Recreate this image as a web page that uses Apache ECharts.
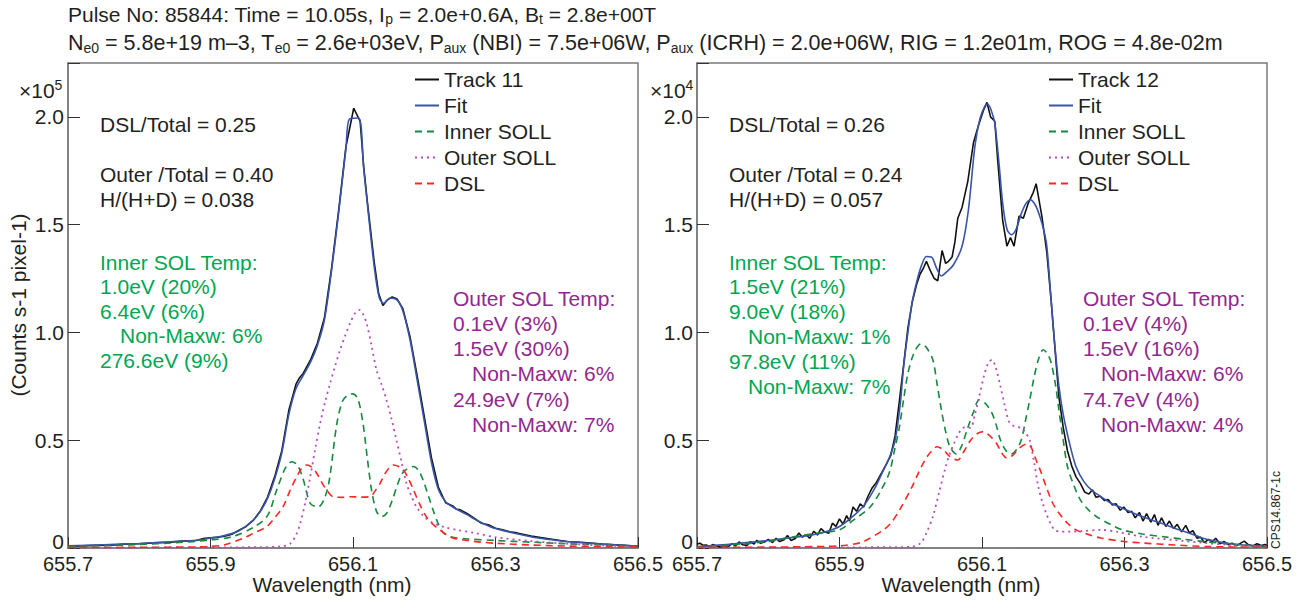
<!DOCTYPE html>
<html><head><meta charset="utf-8">
<script src="https://cdn.jsdelivr.net/npm/echarts@6/dist/echarts.min.js"></script>
<style>html,body{margin:0;padding:0;background:#fff}#c{width:1316px;height:608px}</style>
</head><body><div id="c"></div>
<script>
// ---------------- data (wavelength nm, counts in axis units) ----------------
const xTicks = [655.7, 655.9, 656.1, 656.3, 656.5];
const yTicks = [0, 0.5, 1.0, 1.5, 2.0];
const legendLeft = ['Track 11', 'Fit', 'Inner SOLL', 'Outer SOLL', 'DSL'];
const legendRight = ['Track 12', 'Fit', 'Inner SOLL', 'Outer SOLL', 'DSL'];

const leftTrack = [[655.70,0.008],[655.72,0.010],[655.74,0.012],[655.76,0.013],[655.78,0.018],[655.80,0.020],[655.82,0.024],[655.84,0.026],[655.86,0.032],[655.88,0.035],[655.89,0.044],[655.90,0.047],[655.91,0.050],[655.92,0.055],[655.93,0.064],[655.94,0.082],[655.95,0.100],[655.96,0.128],[655.97,0.172],[655.98,0.235],[655.99,0.330],[656.00,0.450],[656.01,0.640],[656.02,0.760],[656.025,0.790],[656.03,0.810],[656.04,0.870],[656.05,0.950],[656.06,1.070],[656.07,1.300],[656.08,1.570],[656.09,1.860],[656.101,2.040],[656.11,1.980],[656.115,1.770],[656.12,1.610],[656.13,1.320],[656.136,1.180],[656.142,1.125],[656.148,1.150],[656.155,1.165],[656.162,1.155],[656.17,1.110],[656.18,0.980],[656.19,0.800],[656.20,0.610],[656.21,0.420],[656.22,0.280],[656.23,0.210],[656.24,0.195],[656.245,0.180],[656.25,0.178],[656.26,0.160],[656.27,0.138],[656.28,0.115],[656.29,0.108],[656.30,0.092],[656.31,0.085],[656.32,0.075],[656.33,0.070],[656.35,0.055],[656.37,0.045],[656.40,0.030],[656.42,0.027],[656.45,0.018],[656.48,0.012],[656.50,0.008]];
const leftFit = [[655.70,0.010],[655.75,0.015],[655.80,0.021],[655.85,0.030],[655.88,0.036],[655.90,0.046],[655.92,0.058],[655.94,0.080],[655.96,0.130],[655.97,0.170],[655.98,0.230],[655.99,0.320],[656.00,0.440],[656.01,0.620],[656.02,0.740],[656.03,0.800],[656.04,0.860],[656.05,0.940],[656.06,1.060],[656.07,1.290],[656.08,1.560],[656.09,1.850],[656.095,1.990],[656.108,1.995],[656.115,1.760],[656.12,1.600],[656.13,1.300],[656.137,1.160],[656.143,1.135],[656.152,1.160],[656.162,1.150],[656.17,1.100],[656.18,0.966],[656.19,0.780],[656.20,0.590],[656.21,0.400],[656.22,0.270],[656.23,0.215],[656.24,0.190],[656.25,0.172],[656.26,0.155],[656.27,0.135],[656.28,0.118],[656.30,0.090],[656.33,0.066],[656.36,0.046],[656.40,0.030],[656.45,0.018],[656.50,0.009]];
const leftInner = [[655.70,0.008],[655.75,0.011],[655.80,0.016],[655.85,0.024],[655.90,0.037],[655.93,0.052],[655.96,0.095],[655.98,0.150],[655.993,0.270],[656.005,0.370],[656.014,0.400],[656.022,0.385],[656.03,0.320],[656.04,0.207],[656.051,0.190],[656.06,0.230],[656.067,0.320],[656.077,0.570],[656.085,0.680],[656.093,0.710],[656.100,0.715],[656.107,0.690],[656.114,0.579],[656.12,0.420],[656.126,0.270],[656.133,0.170],[656.14,0.145],[656.147,0.160],[656.155,0.220],[656.161,0.280],[656.168,0.340],[656.175,0.365],[656.185,0.378],[656.192,0.360],[656.199,0.310],[656.206,0.240],[656.213,0.170],[656.22,0.110],[656.227,0.070],[656.24,0.050],[656.26,0.042],[656.30,0.035],[656.35,0.027],[656.40,0.020],[656.45,0.014],[656.50,0.010]];
const leftOuter = [[655.70,0.002],[655.80,0.002],[655.90,0.003],[655.97,0.004],[656.00,0.008],[656.012,0.020],[656.02,0.060],[656.026,0.115],[656.033,0.210],[656.040,0.331],[656.047,0.460],[656.054,0.580],[656.061,0.680],[656.068,0.765],[656.075,0.845],[656.082,0.920],[656.089,0.985],[656.096,1.043],[656.103,1.090],[656.109,1.105],[656.114,1.085],[656.119,1.043],[656.126,0.940],[656.133,0.826],[656.140,0.760],[656.147,0.687],[656.154,0.600],[656.161,0.500],[656.168,0.400],[656.175,0.300],[656.182,0.240],[656.189,0.192],[656.20,0.145],[656.213,0.115],[656.23,0.095],[656.246,0.084],[656.27,0.070],[656.30,0.050],[656.35,0.032],[656.40,0.020],[656.45,0.012],[656.50,0.006]];
const leftDSL = [[655.70,0.002],[655.80,0.003],[655.88,0.005],[655.90,0.007],[655.92,0.015],[655.946,0.045],[655.96,0.068],[655.979,0.099],[655.99,0.140],[656.002,0.192],[656.012,0.270],[656.021,0.331],[656.028,0.370],[656.035,0.385],[656.042,0.375],[656.049,0.347],[656.056,0.305],[656.063,0.269],[656.072,0.238],[656.085,0.235],[656.096,0.238],[656.11,0.236],[656.124,0.238],[656.131,0.265],[656.138,0.300],[656.145,0.345],[656.151,0.372],[656.157,0.385],[656.164,0.378],[656.171,0.362],[656.178,0.320],[656.185,0.269],[656.194,0.200],[656.203,0.145],[656.212,0.110],[656.222,0.084],[656.232,0.060],[656.241,0.045],[656.26,0.035],[656.28,0.027],[656.30,0.022],[656.35,0.014],[656.40,0.009],[656.45,0.006],[656.50,0.004]];

const rightTrack = [[655.700,0.018],[655.704,0.022],[655.709,0.012],[655.713,0.014],[655.718,0.006],[655.722,0.016],[655.727,0.010],[655.733,0.004],[655.738,0.012],[655.744,0.006],[655.749,0.020],[655.754,0.010],[655.759,0.028],[655.764,0.015],[655.770,0.012],[655.775,0.030],[655.780,0.018],[655.784,0.036],[655.789,0.022],[655.795,0.028],[655.800,0.040],[655.806,0.025],[655.811,0.045],[655.816,0.030],[655.822,0.038],[655.827,0.058],[655.832,0.035],[655.838,0.044],[655.843,0.070],[655.848,0.050],[655.853,0.062],[655.858,0.045],[655.864,0.078],[655.869,0.060],[655.874,0.090],[655.879,0.075],[655.885,0.068],[655.890,0.115],[655.895,0.100],[655.900,0.135],[655.905,0.110],[655.910,0.150],[655.914,0.125],[655.919,0.190],[655.924,0.170],[655.929,0.205],[655.934,0.190],[655.940,0.240],[655.946,0.280],[655.951,0.300],[655.956,0.330],[655.961,0.360],[655.966,0.390],[655.972,0.430],[655.978,0.520],[655.984,0.680],[655.990,0.850],[655.996,1.020],[656.002,1.140],[656.008,1.220],[656.013,1.270],[656.018,1.300],[656.022,1.330],[656.027,1.290],[656.033,1.250],[656.038,1.240],[656.044,1.380],[656.049,1.320],[656.053,1.330],[656.058,1.350],[656.062,1.420],[656.066,1.530],[656.072,1.580],[656.080,1.700],[656.088,1.880],[656.095,1.960],[656.102,2.030],[656.107,2.067],[656.112,2.000],[656.118,1.980],[656.122,1.800],[656.129,1.520],[656.135,1.400],[656.140,1.440],[656.145,1.400],[656.152,1.540],[656.158,1.530],[656.165,1.600],[656.172,1.650],[656.176,1.690],[656.184,1.540],[656.191,1.370],[656.197,1.150],[656.203,0.900],[656.208,0.700],[656.214,0.560],[656.220,0.450],[656.226,0.380],[656.232,0.330],[656.238,0.300],[656.244,0.260],[656.250,0.250],[656.255,0.270],[656.260,0.235],[656.266,0.240],[656.272,0.220],[656.277,0.225],[656.283,0.200],[656.288,0.205],[656.294,0.175],[656.299,0.190],[656.305,0.165],[656.310,0.170],[656.315,0.140],[656.321,0.165],[656.326,0.125],[656.331,0.160],[656.337,0.120],[656.342,0.155],[656.347,0.105],[656.352,0.140],[656.358,0.100],[656.363,0.125],[656.369,0.090],[656.374,0.110],[656.380,0.075],[656.386,0.105],[656.391,0.070],[656.396,0.080],[656.402,0.045],[656.407,0.050],[656.412,0.025],[656.418,0.040],[656.423,0.028],[656.428,0.045],[656.434,0.020],[656.440,0.030],[656.446,0.015],[656.451,0.022],[656.457,0.010],[656.462,0.020],[656.468,0.032],[656.474,0.015],[656.480,0.010],[656.486,0.020],[656.492,0.012],[656.497,0.016],[656.500,0.012]];
const rightFit = [[655.70,0.006],[655.75,0.018],[655.80,0.035],[655.85,0.055],[655.875,0.070],[655.90,0.100],[655.92,0.150],[655.935,0.200],[655.95,0.280],[655.96,0.350],[655.97,0.420],[655.978,0.500],[655.985,0.660],[655.99,0.840],[655.996,1.000],[656.002,1.140],[656.008,1.230],[656.015,1.310],[656.022,1.352],[656.029,1.350],[656.036,1.300],[656.043,1.262],[656.05,1.280],[656.06,1.314],[656.072,1.400],[656.081,1.570],[656.09,1.863],[656.097,1.990],[656.104,2.050],[656.108,2.060],[656.113,2.030],[656.118,1.970],[656.124,1.780],[656.129,1.600],[656.135,1.480],[656.141,1.453],[656.148,1.480],[656.155,1.550],[656.162,1.600],[656.168,1.615],[656.175,1.590],[656.181,1.540],[656.187,1.470],[656.191,1.400],[656.197,1.150],[656.202,0.950],[656.208,0.750],[656.214,0.620],[656.224,0.470],[656.232,0.377],[656.243,0.308],[656.255,0.265],[656.267,0.238],[656.28,0.210],[656.297,0.185],[656.31,0.165],[656.326,0.145],[656.34,0.128],[656.355,0.111],[656.37,0.092],[656.39,0.070],[656.41,0.045],[656.43,0.030],[656.45,0.020],[656.475,0.012],[656.50,0.006]];
const rightInner = [[655.70,0.006],[655.75,0.015],[655.80,0.030],[655.825,0.046],[655.85,0.060],[655.875,0.072],[655.90,0.084],[655.92,0.130],[655.943,0.190],[655.957,0.260],[655.97,0.350],[655.977,0.450],[655.984,0.560],[655.990,0.690],[655.996,0.810],[656.004,0.900],[656.014,0.947],[656.022,0.930],[656.031,0.873],[656.037,0.760],[656.043,0.640],[656.049,0.540],[656.055,0.470],[656.064,0.436],[656.071,0.470],[656.079,0.548],[656.088,0.630],[656.096,0.687],[656.105,0.670],[656.114,0.626],[656.12,0.570],[656.126,0.500],[656.134,0.450],[656.141,0.436],[656.148,0.455],[656.155,0.500],[656.161,0.590],[656.167,0.687],[656.173,0.790],[656.179,0.873],[656.186,0.920],[656.192,0.900],[656.197,0.860],[656.203,0.760],[656.208,0.640],[656.214,0.500],[656.22,0.377],[656.229,0.290],[656.238,0.223],[656.25,0.175],[656.261,0.145],[656.28,0.110],[656.297,0.084],[656.325,0.065],[656.355,0.052],[656.385,0.040],[656.414,0.029],[656.45,0.018],[656.50,0.006]];
const rightOuter = [[655.70,0.002],[655.80,0.002],[655.90,0.003],[655.98,0.004],[656.002,0.006],[656.014,0.023],[656.022,0.070],[656.031,0.145],[656.040,0.260],[656.049,0.377],[656.055,0.440],[656.061,0.487],[656.067,0.530],[656.073,0.557],[656.078,0.560],[656.084,0.557],[656.090,0.620],[656.096,0.702],[656.103,0.800],[656.109,0.860],[656.114,0.873],[656.119,0.840],[656.126,0.749],[656.132,0.660],[656.138,0.586],[656.145,0.565],[656.155,0.557],[656.161,0.535],[656.167,0.500],[656.173,0.400],[656.179,0.285],[656.185,0.210],[656.19,0.162],[656.196,0.115],[656.202,0.084],[656.21,0.076],[656.22,0.076],[656.24,0.078],[656.267,0.084],[656.29,0.075],[656.326,0.052],[656.37,0.037],[656.414,0.023],[656.45,0.014],[656.50,0.006]];
const rightDSL = [[655.70,0.003],[655.80,0.004],[655.85,0.006],[655.90,0.010],[655.93,0.025],[655.943,0.046],[655.96,0.080],[655.972,0.115],[655.985,0.180],[656.002,0.285],[656.011,0.350],[656.020,0.408],[656.028,0.445],[656.037,0.470],[656.046,0.455],[656.055,0.424],[656.066,0.408],[656.075,0.450],[656.084,0.500],[656.093,0.530],[656.102,0.540],[656.111,0.520],[656.12,0.487],[656.128,0.440],[656.135,0.417],[656.143,0.430],[656.15,0.455],[656.157,0.475],[656.164,0.483],[656.170,0.460],[656.176,0.408],[656.183,0.350],[656.19,0.285],[656.199,0.210],[656.208,0.162],[656.22,0.115],[656.232,0.084],[656.25,0.062],[656.267,0.046],[656.30,0.030],[656.326,0.023],[656.37,0.014],[656.414,0.007],[656.50,0.003]];

// text content
const titleLine1 = 'Pulse No: 85844: Time = 10.05s, I{s|p} = 2.0e+0.6A, B{s|t} = 2.8e+00T';
const titleLine2 = 'N{s|e0} = 5.8e+19 m–3, T{s|e0} = 2.6e+03eV, P{s|aux} (NBI) = 7.5e+06W, P{s|aux} (ICRH) = 2.0e+06W, RIG = 1.2e01m, ROG = 4.8e-02m';
const leftScale = '×10{u|5}', rightScale = '×10{u|4}';
const yName = '(Counts s-1 pixel-1)', xName = 'Wavelength (nm)';
const leftNotes = [['DSL/Total = 0.25',0],['',0],['Outer /Total = 0.40',0],['H/(H+D) = 0.038',0]];
const rightNotes = [['DSL/Total = 0.26',0],['',0],['Outer /Total = 0.24',0],['H/(H+D) = 0.057',0]];
const leftInnerT = [['Inner SOL Temp:',0],['1.0eV (20%)',0],['6.4eV (6%)',0],['Non-Maxw: 6%',1],['276.6eV (9%)',0]];
const leftOuterT = [['Outer SOL Temp:',0],['0.1eV (3%)',0],['1.5eV (30%)',0],['Non-Maxw: 6%',1],['24.9eV (7%)',0],['Non-Maxw: 7%',1]];
const rightInnerT = [['Inner SOL Temp:',0],['1.5eV (21%)',0],['9.0eV (18%)',0],['Non-Maxw: 1%',1],['97.8eV (11%)',0],['Non-Maxw: 7%',1]];
const rightOuterT = [['Outer SOL Temp:',0],['0.1eV (4%)',0],['1.5eV (16%)',0],['Non-Maxw: 6%',1],['74.7eV (4%)',0],['Non-Maxw: 4%',1]];
const figId = 'CPS14.867-1c';

// ---------------- chart ----------------
const BASE = xTicks[0];
const FONT = '"Liberation Sans", Arial, Helvetica, sans-serif';
const C = {k:'#231f20', track:'#111111', fit:'#3a55a8', inner:'#138a3e', outer:'#b64cbe', dsl:'#ff2626', green:'#00a651', purple:'#93278f', frame:'#7a7a7a'};
const FS = 21;

function mk(name, data, i, color, type, width, smooth) {
  return {type:'line', name, xAxisIndex:i, yAxisIndex:i, data:data.map(p=>[+(p[0]-BASE).toFixed(4), p[1]]),
    symbol:'none', showSymbol:false, smooth: smooth, animation:false,
    lineStyle:{color, width, type}, itemStyle:{color}};
}
const dash=[7,5], dot=[2,4];
const series = [
  mk('Track 11', leftTrack, 0, C.track, 'solid', 1.6, false),
  mk('Fit', leftFit, 0, C.fit, 'solid', 1.6, 0.3),
  mk('Inner SOLL', leftInner, 0, C.inner, dash, 1.6, 0.3),
  mk('Outer SOLL', leftOuter, 0, C.outer, dot, 1.8, 0.3),
  mk('DSL', leftDSL, 0, C.dsl, dash, 1.6, 0.3),
  mk('Track 12', rightTrack, 1, C.track, 'solid', 1.6, false),
  mk('Fit', rightFit, 1, C.fit, 'solid', 1.6, 0.3),
  mk('Inner SOLL', rightInner, 1, C.inner, dash, 1.6, 0.3),
  mk('Outer SOLL', rightOuter, 1, C.outer, dot, 1.8, 0.3),
  mk('DSL', rightDSL, 1, C.dsl, dash, 1.6, 0.3)
];

const grids = [{left:68, top:63, width:570, height:485}, {left:697, top:63, width:570, height:485}];
function xAx(i){ return {type:'value', gridIndex:i, min:0, max:+(xTicks[xTicks.length-1]-BASE).toFixed(4), interval:0.2,
  axisLine:{show:true, onZero:false, lineStyle:{color:C.frame, width:1.5}},
  axisTick:{show:true, inside:true, length:11, lineStyle:{color:'#333', width:1}},
  axisLabel:{margin:6, color:C.k, fontSize:20, fontFamily:FONT, formatter:v=>(BASE+v).toFixed(1)},
  splitLine:{show:false}}; }
function yAx(i){ return {type:'value', gridIndex:i, min:0, max:2.25, interval:0.5,
  axisLine:{show:true, lineStyle:{color:C.frame, width:1.5}},
  axisTick:{show:true, inside:true, length:12, lineStyle:{color:'#333', width:1}},
  axisLabel:{margin:4, color:C.k, fontSize:FS, fontFamily:FONT,
    rich:{z:{fontSize:FS, fontFamily:FONT, color:C.k, padding:[0,0,13,0]}},
    formatter:v=>{ if (Math.abs(v*2-Math.round(v*2))>1e-6) return ''; return v===0?'{z|0}':v.toFixed(1);} },
  splitLine:{show:false}}; }

const graphic = [];
function txt(s, x, y, color, size, extra, align){ graphic.push(Object.assign({type:'text', x, y, silent:true,
  style:{text:s, fill:color, font:(size||FS)+'px '+FONT, textAlign:align||'left', textVerticalAlign:'middle', align:align||'left', verticalAlign:'middle'}}, extra||{})); }
function block(lines, x, y, color, indent, step){ lines.forEach((l,j)=>{ if(l[0]) txt(l[0], x + (l[1]===1?indent:0), y + j*step, color, FS); }); }
block(leftNotes, 100, 124, C.k, 0, 25);
block(rightNotes, 729, 124, C.k, 0, 25);
block(leftInnerT, 100, 262, C.green, 20, 24.6);
block(rightInnerT, 729, 262, C.green, 19, 24.8);
block(leftOuterT, 453, 298, C.purple, 19, 25.3);
block(rightOuterT, 1083, 298, C.purple, 18, 25.3);
// axis names
txt(yName, 18, 305, C.k, FS, {rotation:Math.PI/2}, 'center');
[332, 961].forEach(cx=>txt(xName, cx, 584, C.k, FS, null, 'center'));
txt(figId, 1276, 510, C.k, 12, {rotation:Math.PI/2}, 'center');

const richSub = {s:{fontSize:14, fontFamily:FONT, color:C.k, padding:[10,0,0,0]}};
const richSup = {u:{fontSize:14, fontFamily:FONT, color:C.k, padding:[0,0,10,0]}};
const tStyle = (rich, fs)=>({fontSize:fs||FS, fontWeight:'normal', fontFamily:FONT, color:C.k, rich});

function legend(data, left){ return {data, orient:'vertical', left, top:64, itemWidth:24, itemHeight:14, itemGap:5,
  selectedMode:false, itemStyle:{opacity:0},
  textStyle:{fontSize:FS, fontFamily:FONT, color:C.k, lineHeight:20}}; }

const chart = echarts.init(document.getElementById('c'), null, {renderer:'svg'});
chart.setOption({
  animation:false, backgroundColor:'#fff',
  title:[
    {left:68, top:2, text:titleLine1, padding:0, textStyle:tStyle(richSub)},
    {left:68, top:31, text:titleLine2, padding:0, textStyle:tStyle(richSub, 21.5)},
    {left:19, top:78, text:leftScale, padding:0, textStyle:tStyle(richSup)},
    {left:650, top:78, text:rightScale, padding:0, textStyle:tStyle(richSup)}
  ],
  grid: grids.map(g=>Object.assign({show:true, borderColor:C.frame, borderWidth:1.5, backgroundColor:'transparent', containLabel:false}, g)),
  xAxis:[xAx(0), xAx(1)],
  yAxis:[yAx(0), yAx(1)],
  legend:[legend(legendLeft, 409), legend(legendRight, 1043)],
  series,
  graphic
});
</script></body></html>
